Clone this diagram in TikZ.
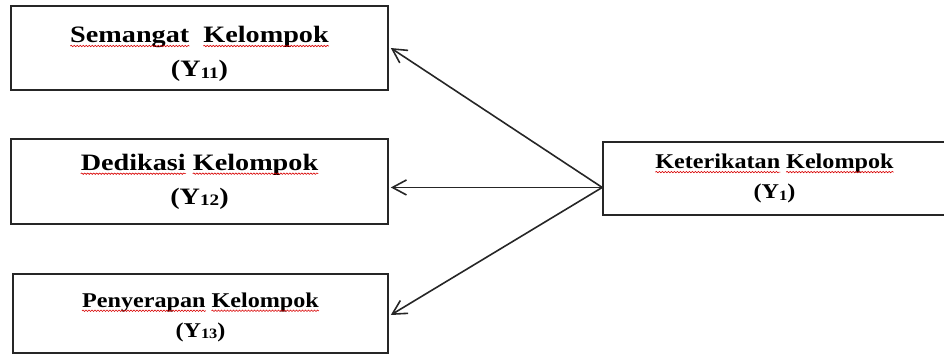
\documentclass[tikz,border=0pt]{standalone}
\usepackage{fontspec}
\setmainfont{Liberation Serif}
\newfontfamily\wideserif[FakeStretch=1.2]{Liberation Serif}
\newfontfamily\midserif[FakeStretch=1.15]{Liberation Serif}
\usetikzlibrary{arrows.meta,calc,decorations.pathmorphing}

% word with a red wavy underline
\newcommand\wv[1]{\tikz[baseline=(w.base),x=1pt,y=1pt]{%
  \node[inner sep=0pt,outer sep=0pt,minimum width=0pt,minimum height=0pt,
        draw=none,fill=none](w){#1};
  \draw[red!85!black,line width=0.6pt,line cap=round,overlay,
        decorate,decoration={snake,segment length=3pt,amplitude=0.7pt}]
    ([yshift=-3.5pt]w.base west) -- ([yshift=-3.5pt]w.base east);}}
\newcommand\sub[1]{\raisebox{-1.5pt}{\scalebox{0.68}{#1}}}

\tikzset{
  box/.style={draw=black!85,line width=1.6pt,fill=white,inner sep=0pt,
              align=center,text=black},
  bigtext/.style={font=\wideserif\bfseries\fontsize{23.5}{34}\selectfont},
  smalltext/.style={font=\midserif\bfseries\fontsize{21}{30}\selectfont},
  arr/.style={draw=black!85,line width=1.6pt,
              -{Straight Barb[length=14pt,width=15pt,line width=1.6pt]}}
}

\begin{document}
\begin{tikzpicture}[x=1pt,y=-1pt]
\useasboundingbox (0,0) rectangle (944,354);

% the struts lower the two-line labels of the first and last box
\node[box,bigtext,minimum width=377pt,minimum height=84pt] (s) at (199.5,48)
  {\rule{0pt}{28pt}\wv{Semangat}\ \ \wv{Kelompok}\\(Y\sub{11})};
\node[box,bigtext,minimum width=377pt,minimum height=85pt] (d) at (199.5,181.5)
  {\wv{Dedikasi} \wv{Kelompok}\\(Y\sub{12})};
\node[box,smalltext,minimum width=375pt,minimum height=79pt] (p) at (200.5,313.5)
  {\rule{0pt}{22pt}\wv{Penyerapan} \wv{Kelompok}\\(Y\sub{13})};
\node[box,smalltext,minimum width=343pt,minimum height=73pt] (k) at (774.5,178.5)
  {\wv{Keterikatan} \wv{Kelompok}\\(Y\sub{1})};

\coordinate (o) at ($(k.south west)!0.38!(k.north west)$);

\draw[arr] (o) -- ([xshift=2pt]s.east);
\draw[arr] (o) -- ([xshift=2pt]o -| d.east);
\draw[arr] (o) -- ([xshift=2pt,yshift=-1.5pt]p.east);
\end{tikzpicture}
\end{document}
